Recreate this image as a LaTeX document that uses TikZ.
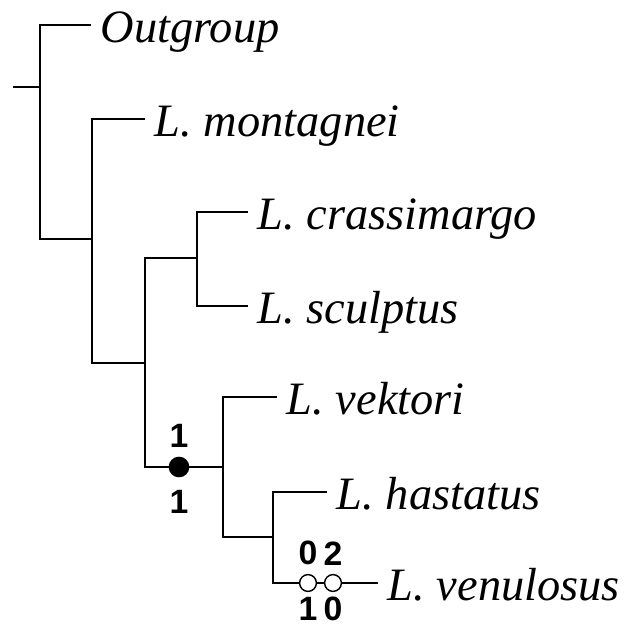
\documentclass[tikz,border=0pt]{standalone}
\usepackage{fontspec}
\setmainfont{Liberation Serif}
\setsansfont{Liberation Sans}
\usetikzlibrary{positioning}

\begin{document}
\begin{tikzpicture}[x=0.025cm, y=-0.025cm, line width=1.2pt,
    taxon/.style={anchor=west, inner xsep=0.225cm, inner ysep=0pt,
      text height=24.8pt, text depth=0pt,
      font=\fontsize{33}{40}\selectfont\itshape},
    gain/.style={circle, draw, fill=white, line width=1pt, inner sep=0pt, minimum size=0.42cm},
    syn/.style={gain, fill=black, minimum size=0.48cm},
    num/.style={inner sep=0pt, font=\fontsize{24}{28}\selectfont\sffamily\bfseries}]
  \useasboundingbox (0,0) rectangle (627,629);

  \coordinate (base) at (13,87);
  \coordinate (n0) at (40,87);
  \coordinate (n1) at (92,239);
  \coordinate (n2) at (145,363);
  \coordinate (n3) at (197,258);
  \coordinate (n4) at (223,467);
  \coordinate (n5) at (273,537);

  \node[taxon] (out) at (91,25) {Outgroup};
  \node[taxon] (mont) at (145,119) {L. montagnei};
  \node[taxon] (crass) at (248,212) {L. crassimargo};
  \node[taxon] (sculp) at (248,306) {L. sculptus};
  \node[taxon] (vek) at (277,397) {L. vektori};
  \node[taxon] (hast) at (327,492) {L. hastatus};
  \node[taxon] (ven) at (378,583) {L. venulosus};

  \draw (base) -- (n0);
  \draw (n0) |- (out);
  \draw (n0) |- (n1);
  \draw (n1) |- (mont);
  \draw (n1) |- (n2);
  \draw (n2) |- (n3);
  \draw (n2) |- (n4);
  \draw (n3) |- (crass);
  \draw (n3) |- (sculp);
  \draw (n4) |- (vek);
  \draw (n4) |- (n5);
  \draw (n5) |- (hast);
  \draw (n5) |- (ven);

  % character changes
  \node[syn] (s1) at (179,467) {};
  \node[num, above=0.2cm of s1] (s1up) {1};
  \node[num, below=0.3cm of s1] (s1dn) {1};

  \node[gain] (g1) at (308,583) {};
  \node[gain] (g2) at (333,583) {};
  \node[num, above=0.2cm of g1] (g1up) {0};
  \node[num, below=0.1cm of g1] (g1dn) {1};
  \node[num, above=0.2cm of g2] (g2up) {2};
  \node[num, below=0.1cm of g2] (g2dn) {0};
\end{tikzpicture}
\end{document}
